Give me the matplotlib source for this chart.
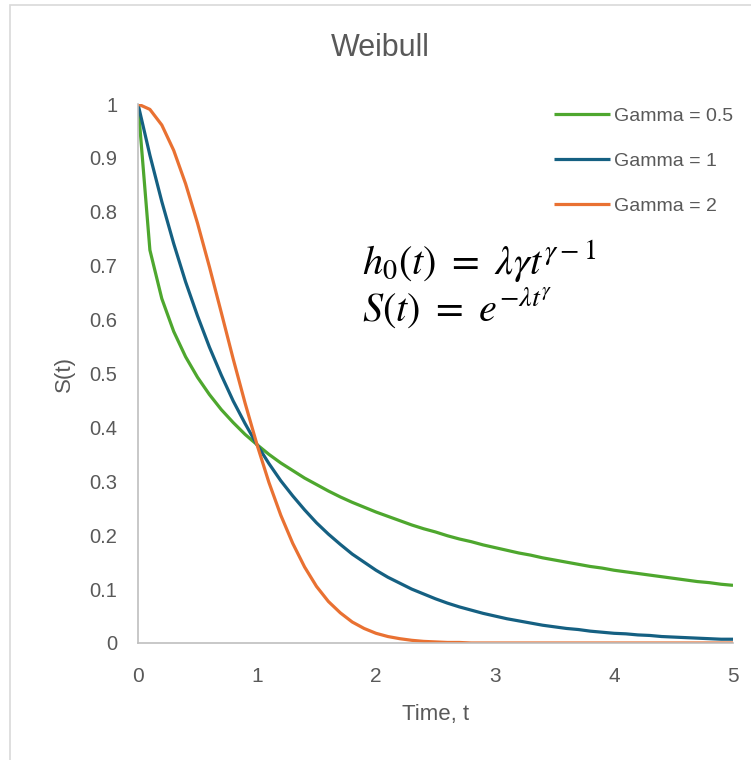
import matplotlib
matplotlib.use("Agg")
import matplotlib.pyplot as plt
from matplotlib.patches import Rectangle
import numpy as np

# time grid, step 0.1 from 0 to 5
t = np.round(np.arange(51) * 0.1, 1)

s_gamma_05 = [1.000, 0.729, 0.639, 0.578, 0.531, 0.493, 0.461, 0.433, 0.409, 0.387,
              0.368, 0.350, 0.334, 0.320, 0.306, 0.294, 0.282, 0.271, 0.261, 0.252,
              0.243, 0.235, 0.227, 0.219, 0.212, 0.206, 0.199, 0.193, 0.188, 0.182,
              0.177, 0.172, 0.167, 0.163, 0.158, 0.154, 0.150, 0.146, 0.142, 0.139,
              0.135, 0.132, 0.129, 0.126, 0.123, 0.120, 0.117, 0.114, 0.112, 0.109,
              0.107]
s_gamma_1 = [1.000, 0.905, 0.819, 0.741, 0.670, 0.607, 0.549, 0.497, 0.449, 0.407,
             0.368, 0.333, 0.301, 0.273, 0.247, 0.223, 0.202, 0.183, 0.165, 0.150,
             0.135, 0.122, 0.111, 0.100, 0.091, 0.082, 0.074, 0.067, 0.061, 0.055,
             0.050, 0.045, 0.041, 0.037, 0.033, 0.030, 0.027, 0.025, 0.022, 0.020,
             0.018, 0.017, 0.015, 0.014, 0.012, 0.011, 0.010, 0.009, 0.008, 0.007,
             0.007]
s_gamma_2 = [1.000, 0.990, 0.961, 0.914, 0.852, 0.779, 0.698, 0.613, 0.527, 0.445,
             0.368, 0.298, 0.237, 0.185, 0.141, 0.105, 0.077, 0.056, 0.039, 0.027,
             0.018, 0.012, 0.008, 0.005, 0.003, 0.002, 0.001, 0.001, 0.000, 0.000,
             0.000, 0.000, 0.000, 0.000, 0.000, 0.000, 0.000, 0.000, 0.000, 0.000,
             0.000, 0.000, 0.000, 0.000, 0.000, 0.000, 0.000, 0.000, 0.000, 0.000,
             0.000]

series = [("Gamma = 0.5", s_gamma_05, "#4EA72E"),
          ("Gamma = 1", s_gamma_1, "#156082"),
          ("Gamma = 2", s_gamma_2, "#E97132")]

x_ticks = [0, 1, 2, 3, 4, 5]
y_ticks = [0, 0.1, 0.2, 0.3, 0.4, 0.5, 0.6, 0.7, 0.8, 0.9, 1]

plt.rcParams["font.family"] = ["Liberation Sans", "DejaVu Sans"]
plt.rcParams["mathtext.fontset"] = "stix"

grey = "#595959"

fig = plt.figure(figsize=(7.51, 7.60), dpi=100)
# light chart-area border (runs off the right and bottom edges)
fig.patches.append(Rectangle((10 / 751, -0.1), 1.2, 755 / 760 + 0.1,
                             transform=fig.transFigure, fill=False,
                             edgecolor="#D9D9D9", linewidth=1.2))
ax = fig.add_axes([138 / 751, 1 - 643 / 760, (733 - 138) / 751, (643 - 104) / 760])

for label, vals, col in series:
    ax.plot(t, vals, color=col, linewidth=2.3, label=label, solid_capstyle="butt")

ax.set_xlim(0, 5)
ax.set_ylim(0, 1)
ax.set_xticks(x_ticks)
ax.set_yticks(y_ticks)
ax.set_yticklabels([f"{v:g}" for v in y_ticks])
ax.tick_params(length=0, colors=grey)
ax.tick_params(axis="x", pad=17, labelsize=15)
ax.tick_params(axis="y", pad=15, labelsize=14.5)
for side in ("top", "right"):
    ax.spines[side].set_visible(False)
for side in ("left", "bottom"):
    ax.spines[side].set_color("#BFBFBF")
    ax.spines[side].set_linewidth(1.2)

ax.set_xlabel("Time, t", fontsize=16, color=grey, labelpad=13)
ax.set_ylabel("S(t)", fontsize=16, color=grey, labelpad=10)
fig.text(380 / 751, 1 - 48 / 760, "Weibull", ha="center", va="center",
         fontsize=22, color=grey)

leg = ax.legend(loc="upper left", bbox_to_anchor=(536 / 751, 1 - 90 / 760),
                bbox_transform=fig.transFigure, frameon=False, fontsize=14,
                handlelength=2.9, handletextpad=0.2, labelspacing=1.4)
for txt in leg.get_texts():
    txt.set_color(grey)

fig.text(362 / 751, 1 - 274 / 760, r"$h_0(t)\ =\ \lambda\gamma t^{\gamma-1}$",
         fontsize=29, color="black", va="baseline")
fig.text(362 / 751, 1 - 321 / 760, r"$S(t)\ =\ e^{-\lambda t^{\gamma}}$",
         fontsize=29, color="black", va="baseline")

fig.savefig("out.png", dpi=100)
